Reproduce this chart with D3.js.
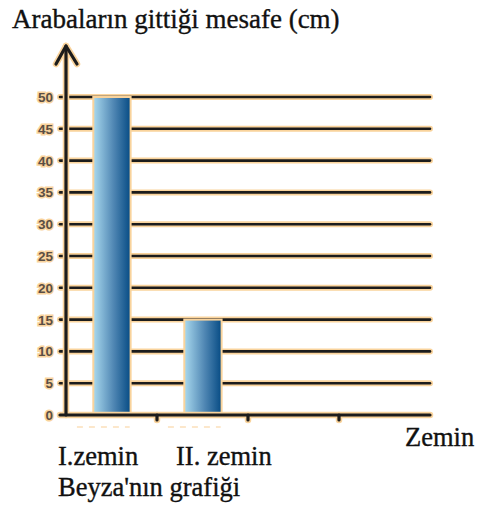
<!DOCTYPE html>
<html>
<head>
<meta charset="utf-8">
<script src="https://cdn.jsdelivr.net/npm/d3@7"></script>
<style>
  body { margin: 0; background: #fff; }
  svg { display: block; }
  .serif { font-family: "Liberation Serif", "Times New Roman", serif; fill: #111; stroke: #111; stroke-width: 0.35; }
</style>
</head>
<body>
<script>
const width = 477;
const height = 507;

// data
const categories = ['I.zemin', 'II. zemin', '', ''];
const values = [50, 15];
const yTicks = [0, 5, 10, 15, 20, 25, 30, 35, 40, 45, 50];
const title = 'Arabaların gittiği mesafe (cm)';
const xTitle = 'Zemin';
const caption = "Beyza'nın grafiği";

const halo = '#f9d39c';
const ink = '#1c1c1c';

const svg = d3.select('body')
  .append('svg')
  .attr('width', width)
  .attr('height', height);

const defs = svg.append('defs');
const grad = defs.append('linearGradient')
  .attr('id', 'barGrad')
  .attr('x1', '0%').attr('x2', '100%')
  .attr('y1', '0%').attr('y2', '0%');
grad.append('stop').attr('offset', '0%').attr('stop-color', '#a9d9ee');
grad.append('stop').attr('offset', '55%').attr('stop-color', '#4f86b3');
grad.append('stop').attr('offset', '100%').attr('stop-color', '#064b84');

const x = d3.scaleBand()
  .domain(d3.range(categories.length))
  .range([66, 430]);

const y = d3.scaleLinear()
  .domain([0, 50])
  .range([415, 97]);

const bw = x.bandwidth();

// gridlines (halo then ink)
const grid = svg.append('g');
[[halo, 6], [ink, 2.6]].forEach(([c, w]) => {
  grid.append('g').selectAll('line')
    .data(yTicks.filter(d => d > 0))
    .enter()
    .append('line')
    .attr('x1', 60)
    .attr('x2', 430)
    .attr('y1', d => y(d))
    .attr('y2', d => y(d))
    .attr('stroke', c)
    .attr('stroke-width', w)
    .attr('stroke-linecap', 'round');
});

// bars
svg.append('g').selectAll('rect')
  .data(values)
  .enter()
  .append('rect')
  .attr('x', (d, i) => x(i) + bw * 0.3)
  .attr('y', d => y(d))
  .attr('width', bw * 0.41)
  .attr('height', d => y(0) - y(d))
  .attr('fill', 'url(#barGrad)')
  .attr('stroke', halo)
  .attr('stroke-width', 2);

// faint dashes under the bars
svg.append('g').selectAll('line')
  .data(values)
  .enter()
  .append('line')
  .attr('x1', (d, i) => x(i) + bw * 0.12)
  .attr('x2', (d, i) => x(i) + bw * 0.7)
  .attr('y1', 427)
  .attr('y2', 427)
  .attr('stroke', '#fbe0bb')
  .attr('stroke-width', 1.5)
  .attr('stroke-dasharray', '6,6');

// axes
const axes = svg.append('g');
[[halo, 6.5], [ink, 3.2]].forEach(([c, w]) => {
  const g = axes.append('g')
    .attr('stroke', c)
    .attr('stroke-width', w)
    .attr('fill', 'none')
    .attr('stroke-linecap', 'round')
    .attr('stroke-linejoin', 'round');
  g.append('line').attr('x1', 66).attr('x2', 66).attr('y1', 46).attr('y2', y(0));
  g.append('line').attr('x1', 60).attr('x2', 430).attr('y1', y(0)).attr('y2', y(0));
  g.append('polyline').attr('points', '56,64 66,46 77,64');
  g.selectAll('.xt')
    .data(d3.range(1, categories.length))
    .enter()
    .append('line')
    .attr('x1', d => x(d))
    .attr('x2', d => x(d))
    .attr('y1', y(0))
    .attr('y2', y(0) + 5);
});

// y tick labels
svg.append('g').selectAll('text')
  .data(yTicks)
  .enter()
  .append('text')
  .attr('x', 53)
  .attr('y', d => y(d) + 5)
  .attr('text-anchor', 'end')
  .attr('font-family', 'Liberation Sans, Arial, sans-serif')
  .attr('font-weight', 'bold')
  .attr('font-size', 13.5)
  .attr('fill', '#5b4e44')
  .attr('stroke', halo)
  .attr('stroke-width', 3)
  .attr('paint-order', 'stroke')
  .text(d => d);

// titles
svg.append('text')
  .attr('class', 'serif')
  .attr('x', 12)
  .attr('y', 28)
  .attr('font-size', 27)
  .text(title);

const labelX = [58, 176];
svg.append('g').selectAll('text')
  .data(categories.filter(d => d))
  .enter()
  .append('text')
  .attr('class', 'serif')
  .attr('x', (d, i) => labelX[i])
  .attr('y', 465)
  .attr('font-size', 26.5)
  .text(d => d);

svg.append('text')
  .attr('class', 'serif')
  .attr('x', 405)
  .attr('y', 446)
  .attr('font-size', 26.5)
  .text(xTitle);

svg.append('text')
  .attr('class', 'serif')
  .attr('x', 58)
  .attr('y', 496)
  .attr('font-size', 26.5)
  .text(caption);
</script>
</body>
</html>
